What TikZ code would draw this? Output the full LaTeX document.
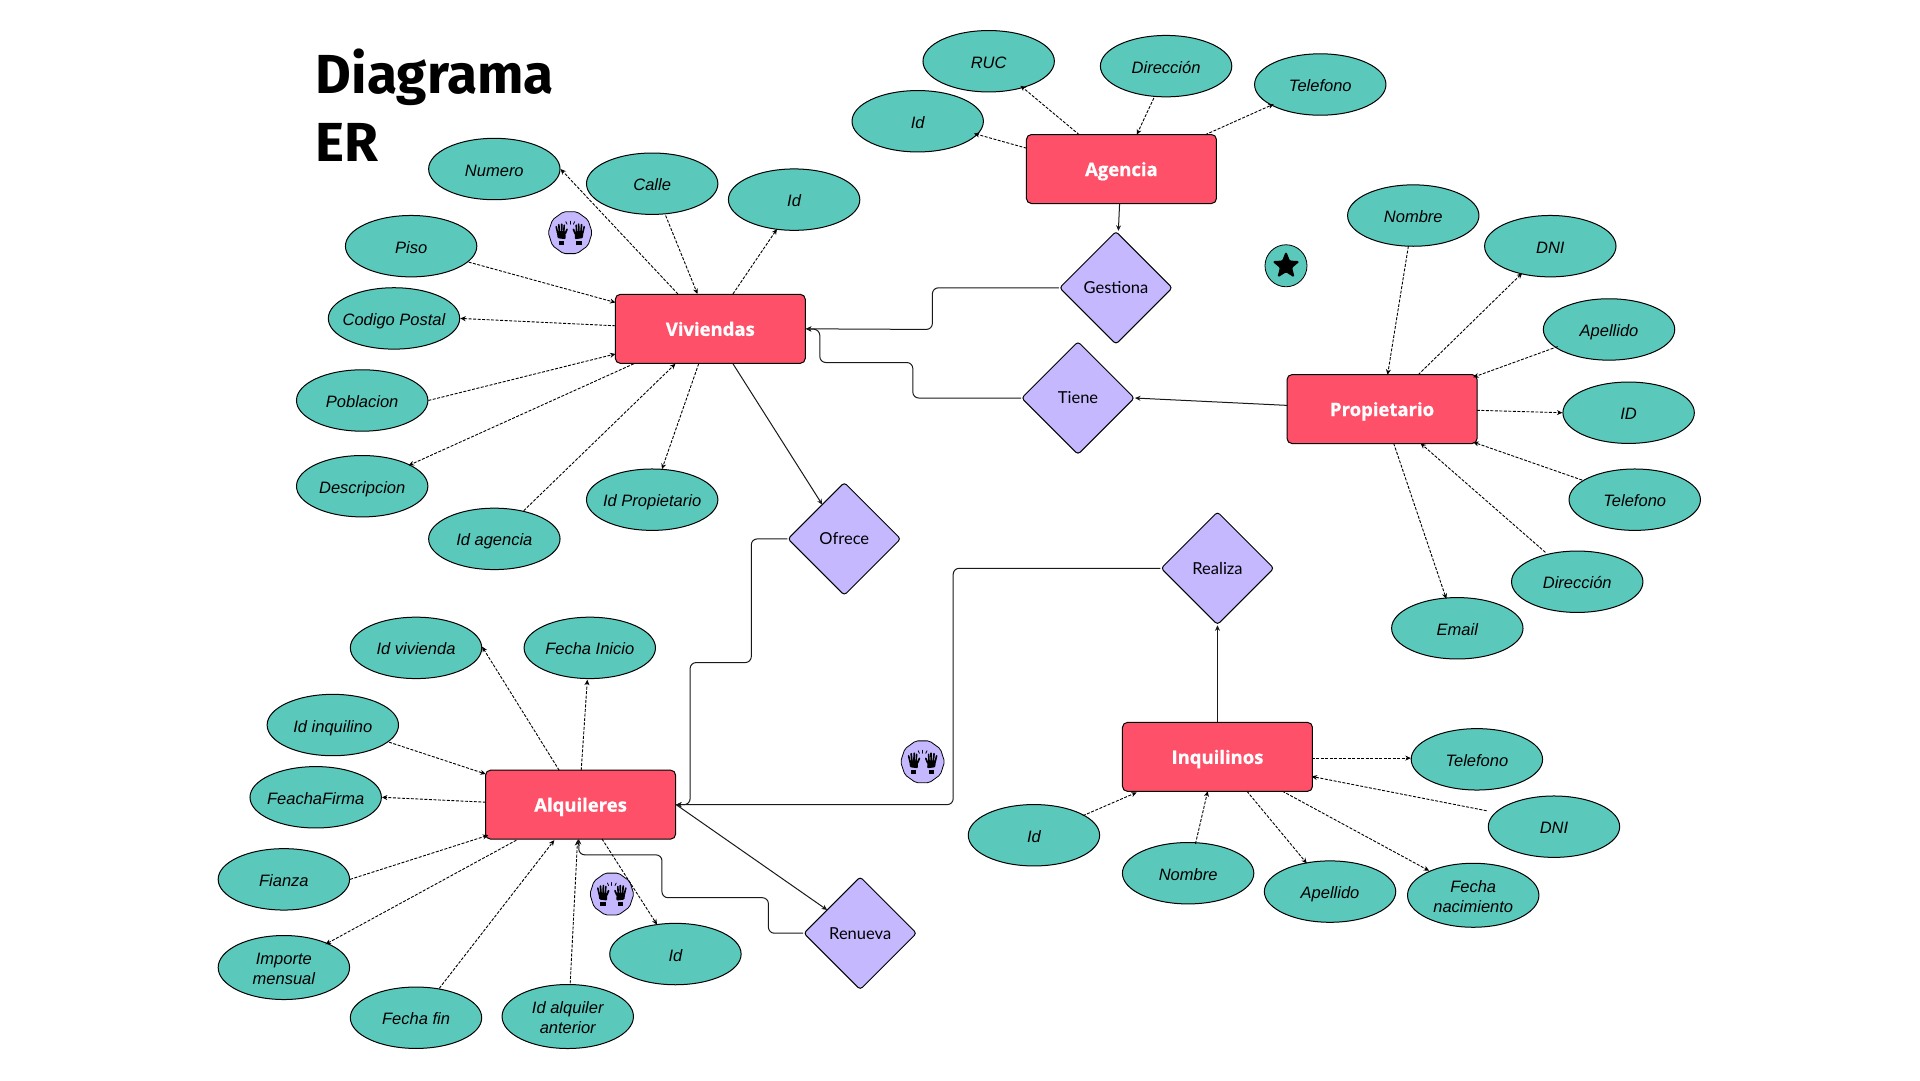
\documentclass[tikz,border=0pt]{standalone}
\usepackage{fontspec}
\setmainfont{Liberation Sans}
\newfontfamily\titlefont{Fira Sans}
\newfontfamily\entfont[BoldFeatures={FakeBold=0.8}]{Open Sans}
\newfontfamily\relfont{Lato}
\usetikzlibrary{shapes.geometric,arrows.meta,calc}
\definecolor{tealc}{HTML}{5AC8BB}
\definecolor{redc}{HTML}{FF5069}
\definecolor{purc}{HTML}{C5B8FF}
\newcommand{\lowerline}{\rule{0pt}{14.4pt}}
\tikzset{
 attrbase/.style={ellipse,draw=black,line width=1pt,fill=tealc,minimum width=131.4pt,minimum height=61.4pt,inner sep=-12pt,align=center,font=\fontsize{16.5}{20}\selectfont\itshape},
 attr/.style={attrbase,text height=14pt,text depth=0pt},
 attrtwo/.style={attrbase,minimum height=64pt},
 ent/.style={rectangle,rounded corners=5pt,draw=black,line width=1pt,fill=redc,minimum width=190pt,minimum height=69pt,inner sep=0pt,text=white,text height=18pt,text depth=4pt,font=\entfont\fontsize{18.5}{22}\selectfont\bfseries},
 rel/.style={diamond,aspect=1,rounded corners=3pt,draw=black,line width=1pt,fill=purc,minimum width=113pt,minimum height=113pt,inner sep=0pt,font=\relfont\fontsize{16.5}{20}\selectfont},
 dl/.style={line width=.9pt,-{Stealth[length=5.5pt,width=5pt]},draw=black,dash pattern=on 3pt off 1.5pt},
 sl/.style={line width=1pt,-{Stealth[length=5.5pt,width=5pt]},draw=black!90,rounded corners=6pt},
 badge/.style={regular polygon,regular polygon sides=10,rounded corners=2pt,draw=black,line width=.8pt,fill=purc,minimum size=44pt,inner sep=0pt},
 title/.style={anchor=base west,inner sep=0pt,font=\titlefont\fontsize{55}{60}\selectfont\bfseries},
 handsicon/.pic={
  \begin{scope}[x=1pt,y=1pt,line cap=round]
  \foreach \s in {-1,1}{
   \begin{scope}[xscale=\s]
    \fill[black,rounded corners=1pt] (4.6,-6.5) -- (12.6,-5.5) -- (13.4,1.5) -- (4.8,1.5) -- cycle;
    \fill[black] (6.2,-12) rectangle (11.4,-8);
    \draw[black,line width=1.6pt] (12.6,0) -- (14,6);
    \draw[black,line width=1.7pt] (10.8,1) -- (11.4,8);
    \draw[black,line width=1.7pt] (8.6,1) -- (8.4,8.5);
    \draw[black,line width=1.6pt] (6.4,1) -- (6,7.5);
    \draw[black,line width=1.7pt] (5,-1) -- (3.2,3.4);
    \draw[black,line width=.8pt] (3.2,8.5) -- (4.4,11);
   \end{scope}}
  \draw[black,line width=.8pt] (0,8.5) -- (0,11.5);
  \end{scope}
 },
}
\begin{document}
\begin{tikzpicture}[x=1.2236pt,y=-1.2247pt,shift={(1,0)}]
\useasboundingbox (-1,0) ++(0pt,0pt) rectangle ++(1920pt,-1080pt);
\node[title] (t1) at (257,76) {Diagrama};
\node[title] (t2) at (257,132) {ER};
% entities
\node[ent] (vi) at (579.5,268.5) {Viviendas};
\node[ent] (ag) at (915.5,138) {Agencia};
\node[ent] (pr) at (1128.5,334) {Propietario};
\node[ent] (al) at (473.5,657) {Alquileres};
\node[ent] (in) at (994,618) {Inquilinos};
% relations
\node[rel] (ge) at (911,235) {Gestiona};
\node[rel] (ti) at (880,325) {Tiene};
\node[rel] (of) at (689,440) {Ofrece};
\node[rel] (rz) at (994,464) {Realiza};
\node[rel] (re) at (702,762) {Renueva};
% attributes
\node[attr] (a1) at (403,138) {Numero};
\node[attr] (a2) at (532,150) {Calle};
\node[attr] (a3) at (648,163) {Id};
\node[attr] (a4) at (335,201) {Piso};
\node[attr] (a5) at (321,260) {Codigo Postal};
\node[attr] (a6) at (295,327) {Poblacion};
\node[attr] (a7) at (295,397) {Descripcion};
\node[attr] (a8) at (403,440) {Id agencia};
\node[attr] (a9) at (532,408) {Id Propietario};
\node[attr] (b1) at (807,50) {RUC};
\node[attr] (b2) at (952,54) {Dirección};
\node[attr] (b3) at (749,99) {Id};
\node[attr] (b4) at (1078,69) {Telefono};
\node[attr] (c1) at (1154,176) {Nombre};
\node[attr] (c2) at (1266,201) {DNI};
\node[attr] (c3) at (1314,269) {Apellido};
\node[attr] (c4) at (1330,337) {ID};
\node[attr] (c5) at (1335,408) {Telefono};
\node[attr] (c6) at (1288,475) {Dirección};
\node[attr] (c7) at (1190,513) {Email};
\node[attr] (d1) at (339,529) {Id vivienda};
\node[attr] (d2) at (481,529) {Fecha Inicio};
\node[attr] (d3) at (271,592) {Id inquilino};
\node[attr] (d4) at (257,651) {FeachaFirma};
\node[attr] (d5) at (231,718) {Fianza};
\node[attrtwo] (d6) at (231,790) {\lowerline Importe\\mensual};
\node[attr] (d7) at (339,831) {Fecha fin};
\node[attrtwo] (d8) at (463,830) {\lowerline Id alquiler\\anterior};
\node[attr] (d9) at (551,779) {Id};
\node[attr] (e1) at (844,682) {Id};
\node[attr] (e2) at (970,713) {Nombre};
\node[attr] (e3) at (1086,728) {Apellido};
\node[attrtwo] (e4) at (1203,731) {\lowerline Fecha\\nacimiento};
\node[attr] (e5) at (1206,620) {Telefono};
\node[attr] (e6) at (1269,675) {DNI};
% badges
\node[badge] (h1) at (465,190) {};
\node[badge] (h2) at (753,622) {};
\node[badge] (h3) at (499,730) {};
\pic at (h1) {handsicon};
\pic at (h2) {handsicon};
\pic at (h3) {handsicon};
\node[circle,draw=black,line width=.8pt,fill=tealc,minimum size=42pt,inner sep=0pt] (st) at (1050,217) {};
\node[star,star points=5,star point ratio=2.3,fill=black,draw=black,line width=1pt,rounded corners=1.2pt,minimum size=27pt,inner sep=0pt] (sti) at (st) {};
% Viviendas attributes
\draw[dl] ($(vi)+(-26.5,-28.5)$) -- (a1.0);
\draw[dl] ($(a2)+(11,26)$) -- ($(vi)+(-10.5,-28.5)$);
\draw[dl] ($(vi)+(18.5,-28.5)$) -- ($(a3)+(-14,24)$);
\draw[dl] ($(a4)+(47,13)$) -- ($(vi)+(-77.5,-21.5)$);
\draw[dl] ($(vi)+(-77.5,-2.5)$) -- (a5.0);
\draw[dl] (a6.0) -- ($(vi)+(-77.5,20.5)$);
\draw[dl] ($(vi)+(-62.5,28.5)$) -- ($(a7)+(38,-17)$);
\draw[dl] ($(a8)+(24,-23)$) -- ($(vi)+(-28.5,28.5)$);
\draw[dl] ($(vi)+(-9.5,28.5)$) -- ($(a9)+(8,-25)$);
% Agencia attributes
\draw[dl] ($(ag)+(-34.5,-28)$) -- ($(b1)+(26,20)$);
\draw[dl] ($(b2)+(-10,26)$) -- ($(ag)+(12.5,-28)$);
\draw[dl] ($(ag)+(-77.5,-17)$) -- ($(b3)+(46,10)$);
\draw[dl] ($(ag)+(68.5,-28)$) -- ($(b4)+(-38,16)$);
% Propietario attributes
\draw[dl] ($(c1)+(-4,25)$) -- ($(pr)+(4.5,-28)$);
\draw[dl] ($(pr)+(29.5,-28)$) -- ($(c2)+(-23,22)$);
\draw[dl] ($(c3)+(-42,14)$) -- ($(pr)+(74.5,-26)$);
\draw[dl] ($(pr)+(77.5,1)$) -- (c4.west);
\draw[dl] ($(c5)+(-43,-16)$) -- ($(pr)+(74.5,27)$);
\draw[dl] ($(c6)+(-26,-24)$) -- ($(pr)+(31.5,28)$);
\draw[dl] ($(pr)+(9.5,28)$) -- ($(c7)+(-9,-24)$);
% Alquileres attributes
\draw[dl] ($(al)+(-17.5,-28)$) -- ($(d1)+(54,-1)$);
\draw[dl] ($(al)+(0.5,-28)$) -- ($(d2)+(-2,26)$);
\draw[dl] ($(d3)+(46,14)$) -- ($(al)+(-77.5,-25)$);
\draw[dl] ($(al)+(-77.5,-2)$) -- (d4.east);
\draw[dl] (d5.east) -- ($(al)+(-75.5,25)$);
\draw[dl] ($(al)+(-52.5,29)$) -- ($(d6)+(34,-19)$);
\draw[dl] ($(d7)+(19,-24)$) -- ($(al)+(-21.5,29)$);
\draw[dl] ($(d8)+(2,-27)$) -- ($(al)+(-2.5,29)$);
\draw[dl] ($(al)+(17.5,28)$) -- ($(d9)+(-15,-24)$);
% Inquilinos attributes
\draw[dl] ($(in)+(77,1)$) -- ($(e5)+(-54,-1)$);
\draw[dl] ($(e6)+(-55,-13)$) -- ($(in)+(77,16)$);
\draw[dl] ($(e1)+(40,-16)$) -- ($(in)+(-66,29)$);
\draw[dl] ($(e2)+(6,-24)$) -- ($(in)+(-8,28)$);
\draw[dl] ($(in)+(24,28)$) -- ($(e3)+(-19,-23)$);
\draw[dl] ($(in)+(53,28)$) -- ($(e4)+(-36,-20)$);
% relations
\draw[sl] ($(ag)+(-1.5,28)$) -- ($(ge.north)+(2,0)$);
\draw[sl] (ge.west) -- (761,235) -- (761,269) -- (vi.east);
\draw[sl] (ti.west) -- (745,325) -- (745,296) -- (669,296) -- (669,269) -- (vi.east);
\draw[sl] ($(pr)+(-77.5,-3)$) -- (ti.east);
\draw[sl] ($(vi)+(18.5,28.5)$) -- ($(of)+(-18,-28)$);
\draw[sl] (of.west) -- (613,440) -- (613,541) -- (563,541) -- (563,657) -- (al.east);
\draw[sl] (rz.west) -- (778,464) -- (778,657) -- (al.east);
\draw[sl] (in.north) -- (rz.south);
\draw[sl] (re.west) -- (627,762) -- (627,733) -- (540,733) -- (540,698) -- (472,698) -- ($(al)+(-1.5,28)$);
\draw[sl] (al.east) -- ($(re)+(-27,-19)$);
\end{tikzpicture}
\end{document}
